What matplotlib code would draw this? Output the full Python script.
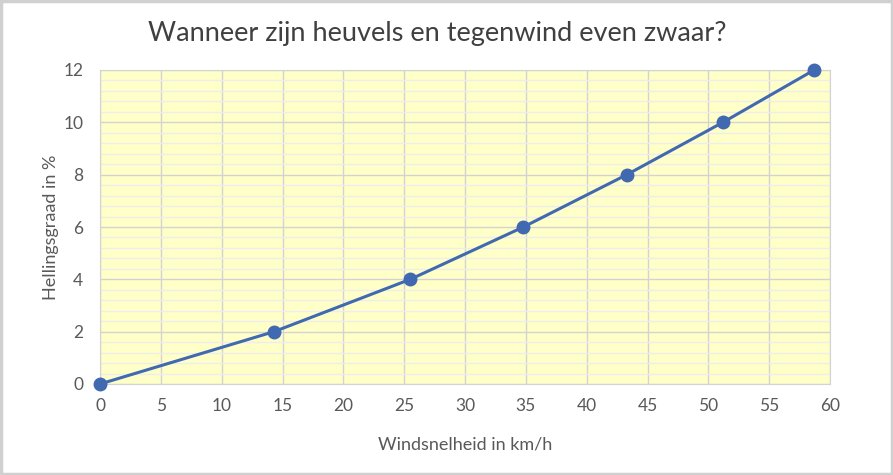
import matplotlib.pyplot as plt
from matplotlib.patches import Rectangle
from matplotlib.ticker import MultipleLocator

# data
windsnelheid = [0, 14.3, 25.5, 34.8, 43.3, 51.2, 58.7]
hellingsgraad = [0, 2, 4, 6, 8, 10, 12]

plt.rcParams['font.family'] = ['Lato', 'DejaVu Sans']
txt = '#595959'

fig = plt.figure(figsize=(8.93, 4.75), dpi=100)
ax = fig.add_axes([100/893, 91/475, 730/893, 314/475])
ax.set_facecolor('#FFFFC8')

ax.plot(windsnelheid, hellingsgraad, color='#4169B2', lw=2.2,
        marker='o', markersize=9, clip_on=False, zorder=5)

ax.set_xlim(0, 60)
ax.set_ylim(0, 12)
ax.xaxis.set_major_locator(MultipleLocator(5))
ax.yaxis.set_major_locator(MultipleLocator(2))
ax.yaxis.set_minor_locator(MultipleLocator(0.4))
ax.grid(which='major', color='#D3D3D3', lw=1.0)
ax.grid(which='minor', axis='y', color='#EDEDED', lw=1.0)
ax.set_axisbelow(True)
ax.tick_params(which='both', length=0, labelsize=12.5, colors=txt)
ax.tick_params(axis='x', pad=10)
ax.tick_params(axis='y', pad=12)
for s in ax.spines.values():
    s.set_color('#D3D3D3')

ax.set_xlabel('Windsnelheid in km/h', fontsize=13, color=txt, labelpad=16)
ax.set_ylabel('Hellingsgraad in %', fontsize=13, color=txt, labelpad=3)

fig.text(437/893, 1 - 33/475, 'Wanneer zijn heuvels en tegenwind even zwaar?',
         ha='center', va='center', fontsize=19.5, color='#404040')

fig.patches.append(Rectangle((0.0015, 0.003), 0.997, 0.994, transform=fig.transFigure,
                             fill=False, edgecolor='#D0D0D0', lw=2.5))

fig.savefig('out.png', dpi=100)
